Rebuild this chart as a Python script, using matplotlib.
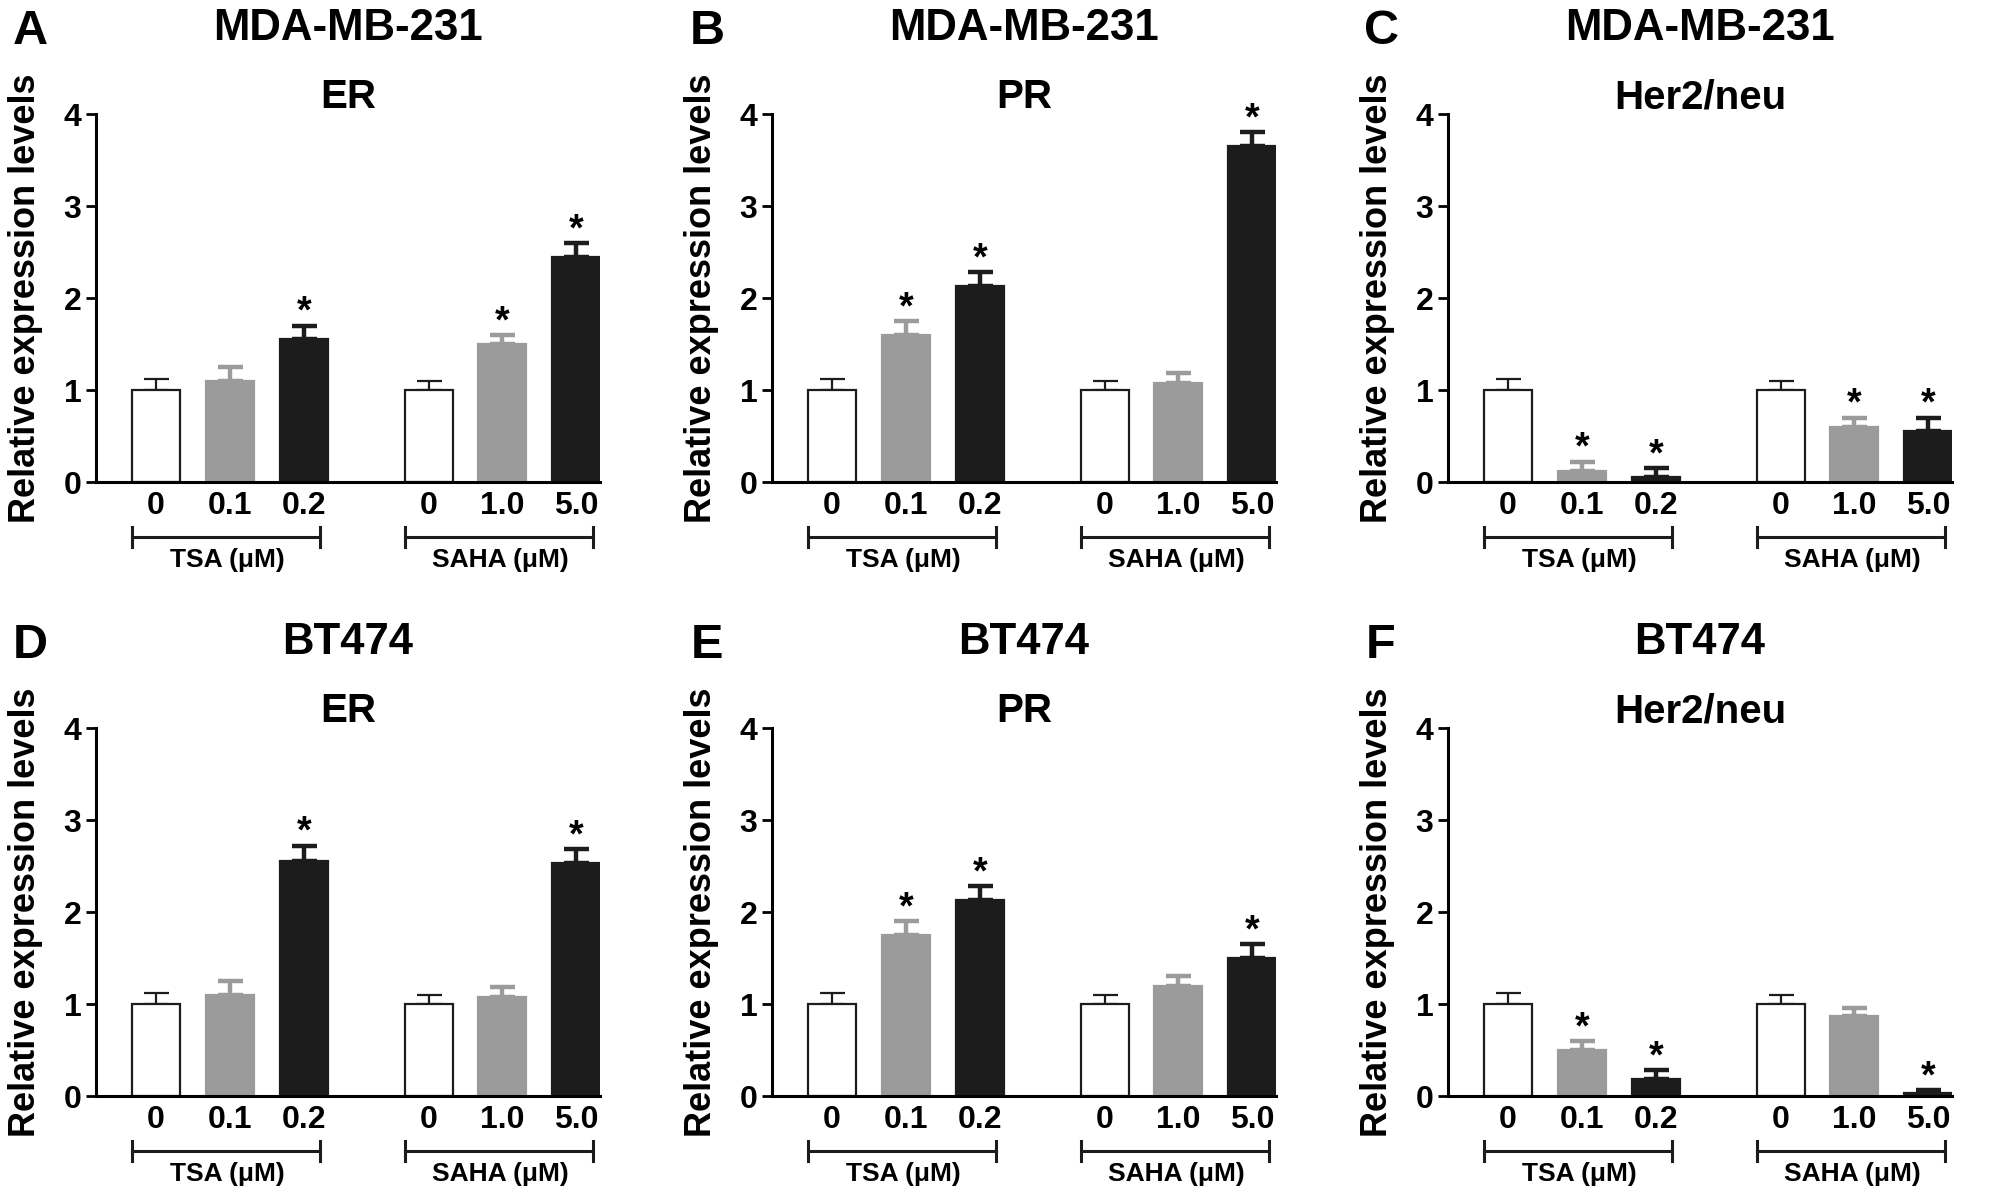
import matplotlib
matplotlib.use("Agg")
import matplotlib.pyplot as plt
import matplotlib.transforms as mtransforms
import numpy as np

plt.rcParams["font.family"] = ["Liberation Sans", "DejaVu Sans"]
plt.rcParams["font.weight"] = "bold"

# ---- data ----
tick_labels = ["0", "0.1", "0.2", "0", "1.0", "5.0"]
group_names = ["TSA (\u03bcM)", "SAHA (\u03bcM)"]
panel_letters = ["A", "B", "C", "D", "E", "F"]
cell_lines = ["MDA-MB-231", "MDA-MB-231", "MDA-MB-231", "BT474", "BT474", "BT474"]
receptors = ["ER", "PR", "Her2/neu", "ER", "PR", "Her2/neu"]

mean_a = [1.00, 1.10, 1.55, 1.00, 1.50, 2.45]
err_a = [0.12, 0.15, 0.15, 0.10, 0.10, 0.15]
sig_a = [0, 0, 1, 0, 1, 1]

mean_b = [1.00, 1.60, 2.13, 1.00, 1.08, 3.65]
err_b = [0.12, 0.15, 0.15, 0.10, 0.10, 0.15]
sig_b = [0, 1, 1, 0, 0, 1]

mean_c = [1.00, 0.12, 0.05, 1.00, 0.60, 0.55]
err_c = [0.12, 0.10, 0.10, 0.10, 0.10, 0.15]
sig_c = [0, 1, 1, 0, 1, 1]

mean_d = [1.00, 1.10, 2.55, 1.00, 1.08, 2.53]
err_d = [0.12, 0.15, 0.17, 0.10, 0.10, 0.15]
sig_d = [0, 0, 1, 0, 0, 1]

mean_e = [1.00, 1.75, 2.13, 1.00, 1.20, 1.50]
err_e = [0.12, 0.15, 0.15, 0.10, 0.10, 0.15]
sig_e = [0, 1, 1, 0, 0, 1]

mean_f = [1.00, 0.50, 0.18, 1.00, 0.87, 0.03]
err_f = [0.12, 0.10, 0.10, 0.10, 0.09, 0.03]
sig_f = [0, 1, 1, 0, 0, 1]

all_means = [mean_a, mean_b, mean_c, mean_d, mean_e, mean_f]
all_errs = [err_a, err_b, err_c, err_d, err_e, err_f]
all_sigs = [sig_a, sig_b, sig_c, sig_d, sig_e, sig_f]

# ---- layout ----
W, H = 2008, 1204
fig = plt.figure(figsize=(W / 100, H / 100), dpi=100)

x_pos = np.array([0, 1, 2, 3.69, 4.69, 5.69])
group_starts = [0, 3.69]
bar_w = 0.65
fills = ["white", "#9b9b9b", "#1c1c1c"]
edges = ["#1c1c1c", "#9b9b9b", "#1c1c1c"]
err_cols = ["#1c1c1c", "#9b9b9b", "#1c1c1c"]
err_lw = [1.6, 3.2, 3.2]

ax_left_px = [96, 772, 1448]
ax_w_px = 504
ax_h_px = 368
ax_base_px = [482, 1096]
letter_x_px = [30, 707, 1381]
letter_y_px = [32, 646]

for i in range(6):
    row, col = divmod(i, 3)
    ax = fig.add_axes([ax_left_px[col] / W, 1 - ax_base_px[row] / H,
                       ax_w_px / W, ax_h_px / H])
    means = all_means[i]
    errs = all_errs[i]
    for j in range(6):
        k = j % 3
        ax.errorbar(x_pos[j], means[j], yerr=[[0], [errs[j]]], fmt="none",
                    ecolor=err_cols[k], elinewidth=err_lw[k], capsize=9,
                    capthick=err_lw[k], zorder=1)
        ax.bar(x_pos[j], means[j], width=bar_w, color=fills[k],
               edgecolor=edges[k], linewidth=1.6, zorder=2)
        if all_sigs[i][j]:
            ax.annotate("*", xy=(x_pos[j], means[j] + errs[j]), xytext=(0, 2),
                        textcoords="offset points", ha="center", va="baseline",
                        fontsize=27, fontweight="bold")

    ax.set_xlim(-0.81, 6.01)
    ax.set_ylim(0, 4)
    ax.set_yticks([0, 1, 2, 3, 4])
    ax.set_xticks(x_pos)
    ax.set_xticklabels(tick_labels)
    ax.tick_params(axis="x", length=0, pad=6.5, labelsize=23)
    ax.tick_params(axis="y", length=7, width=2, pad=3.5, labelsize=23)
    for side in ["top", "right"]:
        ax.spines[side].set_visible(False)
    for side in ["left", "bottom"]:
        ax.spines[side].set_linewidth(2.2)

    ax.set_ylabel("Relative expression levels", fontsize=26, fontweight="bold")
    ax.yaxis.set_label_coords(-0.105, 0.5)

    ax.text(0.5, 1.231, cell_lines[i], transform=ax.transAxes, ha="center",
            va="center", fontsize=31.5, fontweight="bold")
    ax.text(0.5, 1.045, receptors[i], transform=ax.transAxes, ha="center",
            va="center", fontsize=29, fontweight="bold")

    trans = mtransforms.blended_transform_factory(ax.transData, ax.transAxes)
    for s, name in zip(group_starts, group_names):
        a, b = s - 0.325, s + 2.22
        ax.plot([a, a, np.nan, a, b, np.nan, b, b],
                [-0.123, -0.177, np.nan, -0.150, -0.150, np.nan, -0.123, -0.177],
                transform=trans, clip_on=False, color="#1c1c1c", lw=2.2)
        ax.text(s + 0.97, -0.213, name, transform=trans, ha="center",
                va="center", fontsize=19, fontweight="bold")

    fig.text(letter_x_px[col] / W, 1 - letter_y_px[row] / H, panel_letters[i],
             ha="center", va="center", fontsize=35, fontweight="bold")

fig.savefig("out.png", dpi=100, facecolor="white")
